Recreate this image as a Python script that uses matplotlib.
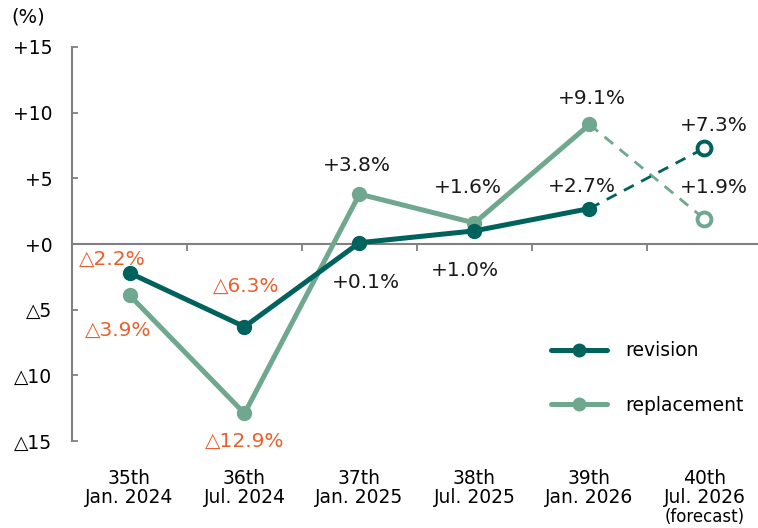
import matplotlib.pyplot as plt
import numpy as np

# ---------- data ----------
periods = ["35th\nJan. 2024", "36th\nJul. 2024", "37th\nJan. 2025",
           "38th\nJul. 2025", "39th\nJan. 2026", "40th\nJul. 2026"]
revision = [-2.2, -6.3, 0.1, 1.0, 2.7, 7.3]
replacement = [-3.9, -12.9, 3.8, 1.6, 9.1, 1.9]
yticks = [-15, -10, -5, 0, 5, 10, 15]
ytick_labels = ["△15", "△10", "△5", "+0", "+5", "+10", "+15"]

# label offsets in pixels (dx, dy)
rev_offsets = [(-17, 14), (2, 40), (6, -40), (-10, -40), (-8, 22), (9, 23)]
rep_offsets = [(-11, -35), (0, -28), (-3, 29), (-7, 35), (2, 26), (9, 32)]

c_rev = "#00625c"
c_rep = "#6fa88e"
c_neg = "#e8602c"
c_axis = "#808080"

def fmt(v):
    return ("△" if v < 0 else "+") + f"{abs(v):.1f}%"

fig = plt.figure(figsize=(7.58, 5.28), dpi=100)
ax = fig.add_axes([72 / 758, 87 / 528, 690 / 758, 394 / 528])
x = np.arange(len(periods))

for vals, col, lab in [(replacement, c_rep, "replacement"), (revision, c_rev, "revision")]:
    ax.plot(x[:5], vals[:5], color=col, lw=3.6, marker="o", ms=10, label=lab,
            solid_capstyle="round", zorder=3)
    ax.plot(x[4:], vals[4:], color=col, lw=2, ls=(0, (4, 3)), zorder=2)
    ax.plot(x[5], vals[5], marker="o", ms=10, mfc="white", mec=col, mew=2.8,
            ls="none", zorder=4)

for vals, offs in [(revision, rev_offsets), (replacement, rep_offsets)]:
    for xi, v, (dx, dy) in zip(x, vals, offs):
        ax.annotate(fmt(v), (xi, v), xytext=(dx, dy), textcoords="offset pixels",
                    ha="center", va="center", fontsize=14.5,
                    color=c_neg if v < 0 else "#1a1a1a")

ax.set_xlim(-0.5, 5.5)
ax.set_ylim(-15, 15)
ax.set_yticks(yticks)
ax.set_yticklabels(ytick_labels, fontsize=13.5)
ax.set_xticks(x)
ax.set_xticklabels(periods, fontsize=13.5, linespacing=1.0)
ax.tick_params(axis="x", length=0, pad=20)
ax.tick_params(axis="y", direction="in", length=4, width=1.3, color=c_axis, pad=14)
ax.annotate("(forecast)", (5, 0), xycoords=("data", "axes fraction"),
            xytext=(0, -76), textcoords="offset pixels", ha="center", va="center",
            fontsize=12)

for s in ["top", "right", "bottom"]:
    ax.spines[s].set_visible(False)
ax.spines["left"].set_color(c_axis)
ax.spines["left"].set_linewidth(1.5)

# zero line with category boundary ticks
zero = ax.secondary_xaxis(0.5)
zero.set_xticks(np.arange(0.5, 5.5, 1.0))
zero.set_xticklabels([])
zero.tick_params(direction="in", length=5, width=1.3, color=c_axis)
for s in ["bottom", "top"]:
    zero.spines[s].set_color(c_axis)
    zero.spines[s].set_linewidth(1.5)

ax.text(-0.064, 1.075, "(%)", transform=ax.transAxes, fontsize=14, ha="center", va="center")

handles, labels = ax.get_legend_handles_labels()
leg = ax.legend(handles[::-1], labels[::-1], loc="center left", bbox_to_anchor=(0.68, 0.16),
                frameon=False, fontsize=13.5, handlelength=3.0, labelspacing=1.9,
                handletextpad=1.0, borderpad=0)
for h in leg.get_lines():
    h.set_markersize(9)

fig.savefig("out.png", dpi=100)
